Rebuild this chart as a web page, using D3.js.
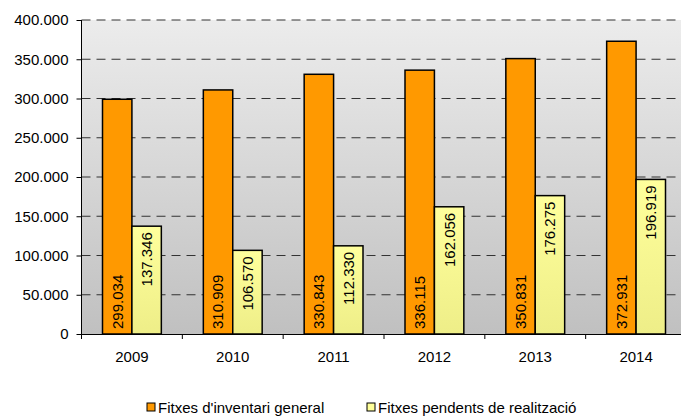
<!DOCTYPE html>
<html>
<head>
<meta charset="utf-8">
<script src="https://cdn.jsdelivr.net/npm/d3@7"></script>
<style>
  body { margin: 0; background: #fff; }
  svg text { font-family: "Liberation Sans", Arial, sans-serif; fill: #000; }
</style>
</head>
<body>
<div id="chart"></div>
<script>
// years and the two series
var years = ["2009", "2010", "2011", "2012", "2013", "2014"];
var general = [299034, 310909, 330843, 336115, 350831, 372931];
var pending = [137346, 106570, 112330, 162056, 176275, 196919];
var seriesNames = ["Fitxes d'inventari general", "Fitxes pendents de realització"];
var yTicks = [0, 50000, 100000, 150000, 200000, 250000, 300000, 350000, 400000];

var W = 681, H = 416;
var m = {top: 20, left: 81.5, right: -5.5, bottom: 82};
var width = W - m.left - m.right, height = H - m.top - m.bottom;

var svg = d3.select("#chart").append("svg")
  .attr("width", W).attr("height", H);

var defs = svg.append("defs");
var bg = defs.append("linearGradient").attr("id", "bg").attr("x1", 0).attr("y1", 0).attr("x2", 0).attr("y2", 1);
bg.append("stop").attr("offset", "0%").attr("stop-color", "#ececec");
bg.append("stop").attr("offset", "100%").attr("stop-color", "#c0c0c0");
var yg = defs.append("linearGradient").attr("id", "yel").attr("x1", 0).attr("y1", 0).attr("x2", 0).attr("y2", 1);
yg.append("stop").attr("offset", "0%").attr("stop-color", "#ffff9c");
yg.append("stop").attr("offset", "100%").attr("stop-color", "#eeee88");

var g = svg.append("g").attr("transform", "translate(" + m.left + "," + m.top + ")");

var x = d3.scaleBand().domain(years).range([0, width]);
var x1 = d3.scaleBand().domain([0, 1]).range([21, x.bandwidth() - 21]);
var y = d3.scaleLinear().domain([0, 400000]).range([height, 0]);

g.append("rect").attr("width", width).attr("height", height).attr("fill", "url(#bg)");

var fmt = function(d){ return d3.format(",")(d).replace(/,/g, "."); };

// y axis with dashed grid
var yAxis = d3.axisLeft(y).tickValues(yTicks).tickSize(5).tickPadding(8).tickFormat(fmt);
var ya = g.append("g").call(yAxis);
ya.select(".domain").remove();
ya.selectAll("text").style("font-size", "15px").attr("fill", "#000");
ya.selectAll("line").attr("stroke", "#000");

g.selectAll(".grid").data(yTicks.filter(function(d){ return d > 0; })).enter().append("line")
  .attr("class", "grid")
  .attr("x1", 0).attr("x2", width)
  .attr("y1", function(d){ return y(d); }).attr("y2", function(d){ return y(d); })
  .attr("stroke", "#333").attr("stroke-width", 1.2).attr("stroke-dasharray", "9,6");

// bars
var data = years.map(function(yr, i){ return {year: yr, vals: [general[i], pending[i]]}; });
var grp = g.selectAll(".grp").data(data).enter().append("g")
  .attr("transform", function(d){ return "translate(" + x(d.year) + ",0)"; });

grp.selectAll("rect").data(function(d){ return d.vals; }).enter().append("rect")
  .attr("x", function(d, i){ return x1(i); })
  .attr("y", function(d){ return y(d); })
  .attr("width", x1.bandwidth())
  .attr("height", function(d){ return height - y(d); })
  .attr("fill", function(d, i){ return i == 0 ? "#ff9900" : "url(#yel)"; })
  .attr("stroke", "#000").attr("stroke-width", 1.5);

// value labels, rotated
grp.selectAll(".lbl").data(function(d){ return d.vals; }).enter().append("text")
  .attr("class", "lbl")
  .attr("transform", function(d, i){
    var cx = x1(i) + x1.bandwidth() / 2;
    var py = i == 0 ? height - 5 : y(d) + 6;
    return "translate(" + cx + "," + py + ") rotate(-90)";
  })
  .attr("text-anchor", function(d, i){ return i == 0 ? "start" : "end"; })
  .attr("dy", "0.36em")
  .style("font-size", "15px")
  .text(fmt);

// x axis
var xa = g.append("g").attr("transform", "translate(0," + height + ")")
  .call(d3.axisBottom(x).tickSize(0).tickPadding(17));
xa.select(".domain").attr("stroke", "#000");
xa.selectAll("text").style("font-size", "15px");
xa.selectAll(".sep").data(d3.range(years.length + 1)).enter().append("line")
  .attr("x1", function(d){ return d * x.step(); }).attr("x2", function(d){ return d * x.step(); })
  .attr("y1", 0).attr("y2", 5).attr("stroke", "#000");

// y axis line
g.append("line").attr("x1", 0).attr("x2", 0).attr("y1", 0).attr("y2", height + 5).attr("stroke", "#000");

// legend
var leg = svg.append("g").attr("transform", "translate(0,408)");
var legX = [147, 367];
seriesNames.forEach(function(n, i){
  leg.append("rect").attr("x", legX[i]).attr("y", -5).attr("width", 8).attr("height", 8)
    .attr("fill", i == 0 ? "#ff9900" : "#ffff99").attr("stroke", "#000").attr("stroke-width", 1);
  leg.append("text").attr("x", legX[i] + 11).attr("y", 0).attr("dy", "0.36em")
    .style("font-size", "15px").text(n);
});
</script>
</body>
</html>
